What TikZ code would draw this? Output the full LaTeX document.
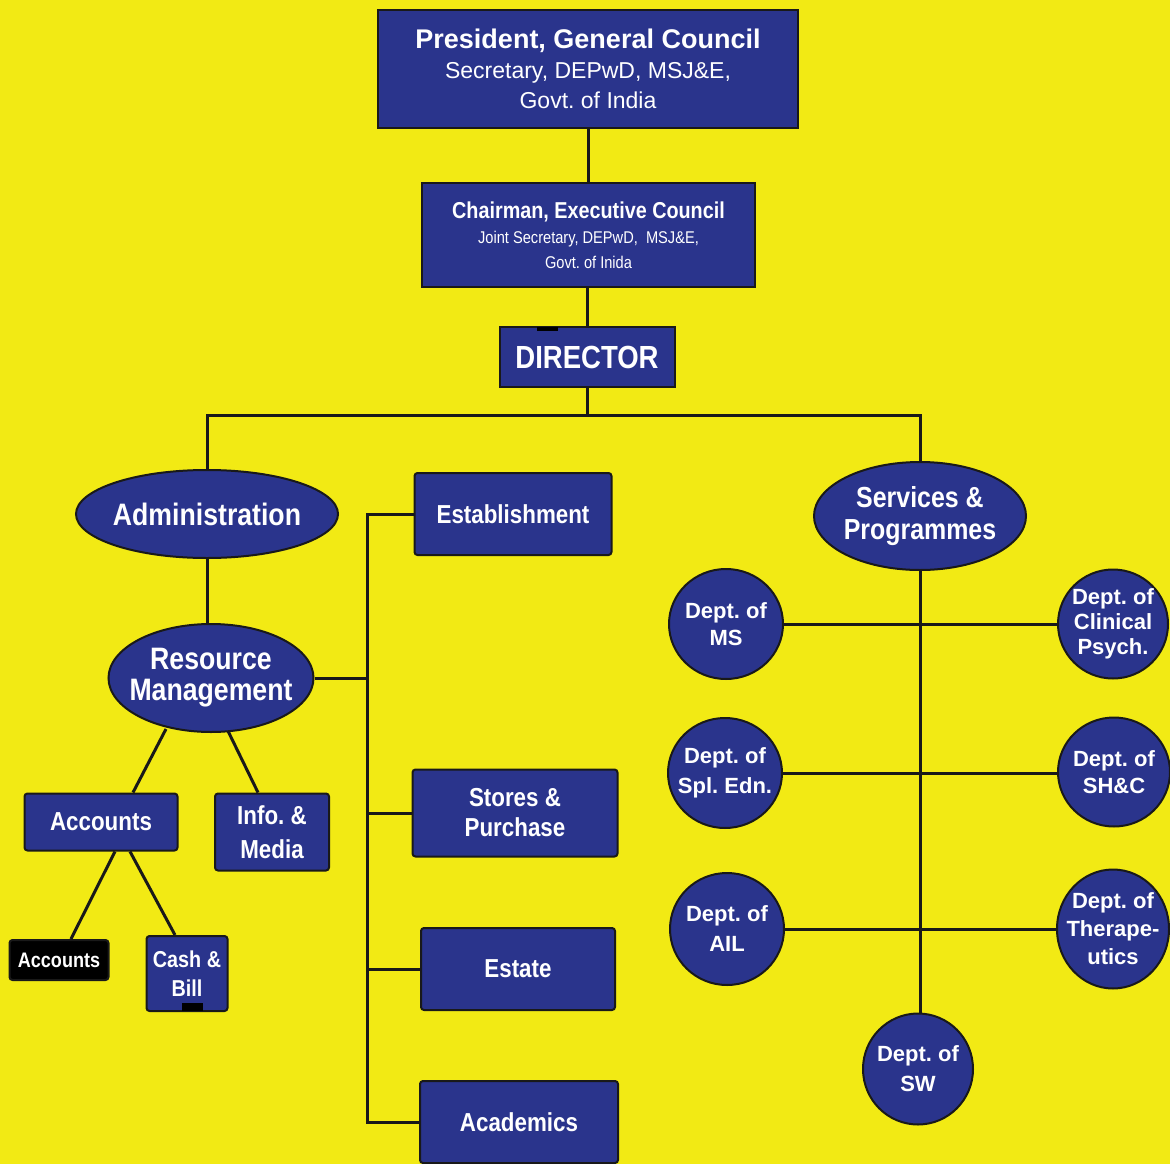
\documentclass[tikz,border=0pt]{standalone}
\usepackage{fontspec}
\setmainfont{Liberation Sans}
\newfontfamily\cond[FakeStretch=0.86]{Liberation Sans}
\usetikzlibrary{shapes.geometric,calc}
\definecolor{bgy}{RGB}{242,234,20}
\definecolor{navy}{RGB}{42,52,140}
\definecolor{ln}{RGB}{25,25,25}
\newcommand\myfs[2]{\fontsize{#1}{#2}\selectfont}
\frenchspacing
\begin{document}
\begin{tikzpicture}[x=1pt,y=-1pt,
  box/.style={draw=ln, line width=2pt, fill=navy, text=white, inner sep=0pt, align=center, rounded corners=3pt},
  ell/.style={ellipse, draw=ln, line width=2pt, fill=navy, text=white, inner sep=-60pt, align=center},
  conn/.style={draw=ln, line width=3pt},
  cb/.style={font=\cond\bfseries\myfs{26}{31}},
  nb/.style={font=\bfseries\myfs{22}{27}}]
\fill[bgy] (0,0) rectangle (1170,1164);
\useasboundingbox (0,0) rectangle (1170,1164);

% top chain
\node[box, rounded corners=0pt, minimum width=420, minimum height=118, font=\myfs{23}{30}] (pres) at (588,69)
  {{\bfseries\myfs{27}{31}President, General Council}\\Secretary, DEPwD, MSJ\&E,\\Govt. of India};
\node[box, rounded corners=0pt, minimum width=333, minimum height=104, font=\cond\myfs{17}{25}] (chair) at (588.5,235)
  {{\bfseries\myfs{23}{27}Chairman, Executive Council}\\Joint Secretary, DEPwD,~ MSJ\&E,\\Govt. of Inida};
\node[box, rounded corners=0pt, minimum width=175, minimum height=60, font=\cond\bfseries\myfs{32}{36}] (dir) at (587,357) {DIRECTOR};

% left side
\node[ell, minimum width=262, minimum height=88, font=\cond\bfseries\myfs{31}{36}] (adm) at (207,514) {Administration};
\node[ell, minimum width=205, minimum height=108, font=\cond\bfseries\myfs{31}{31}] (rm) at (211,678) {Resource\\Management};
\node[box, cb, minimum width=153, minimum height=57] (acc) at (101,822) {Accounts};
\node[box, cb, minimum width=114, minimum height=77, font=\cond\bfseries\myfs{26}{34}] (info) at (272,832) {Info. \&\\Media};
\node[box, fill=black, minimum width=99, minimum height=40, font=\cond\bfseries\myfs{21}{24}] (acc2) at (59,960) {Accounts};
\node[box, minimum width=81, minimum height=75, font=\cond\bfseries\myfs{23}{29}] (cash) at (187,973.5) {Cash \&\\Bill};
\fill[black] (182,1003) rectangle (203,1011);
\fill[black] (537,327) rectangle (558,331);

% middle column
\node[box, cb, minimum width=197, minimum height=82] (est) at (513,514) {Establishment};
\node[box, cb, minimum width=205, minimum height=87, font=\cond\bfseries\myfs{26}{30}] (sto) at (515,813) {Stores \&\\Purchase};
\node[box, cb, minimum width=194, minimum height=82] (esta) at (518,969) {Estate};
\node[box, cb, minimum width=198, minimum height=82] (acad) at (519,1122) {Academics};

% right side
\node[ell, minimum width=212, minimum height=108, font=\cond\bfseries\myfs{29}{32}] (sp) at (920,516) {Services \&\\Programmes};
\node[ell, nb, minimum width=114, minimum height=110] (ms) at (726,624) {Dept. of\\MS};
\node[ell, nb, minimum width=110, minimum height=109, font=\bfseries\myfs{22}{25}] (cp) at (1113,624) {Dept. of\\Clinical\\Psych.};
\node[ell, nb, minimum width=114, minimum height=110, font=\bfseries\myfs{22}{30}] (se) at (725,773) {Dept. of\\Spl. Edn.};
\node[ell, nb, minimum width=112, minimum height=109] (shc) at (1114,772) {Dept. of\\SH\&C};
\node[ell, nb, minimum width=114, minimum height=112, font=\bfseries\myfs{22}{30}] (ail) at (727,929) {Dept. of\\AIL};
\node[ell, nb, minimum width=112, minimum height=119, font=\bfseries\myfs{22}{28}] (ther) at (1113,929) {Dept. of\\Therape-\\utics};
\node[ell, nb, minimum width=110, minimum height=111, font=\bfseries\myfs{22}{30}] (sw) at (918,1069) {Dept. of\\SW};

% connectors
\coordinate (hb) at (587,415);
\coordinate (tb) at (367,1122);
\draw[conn] (pres.south) -- (pres.south |- chair.north);
\draw[conn] (chair.south -| dir.north) -- (dir.north);
\draw[conn] (dir.south) -- (hb);
\draw[conn] (adm.north) |- (hb) -| (sp.north);
\draw[conn] (adm.south) -- (rm.north -| adm.south);
\draw[conn] (est.west) -- (est.west -| tb) -- (acad.west -| tb) -- (acad.west);
\draw[conn] (rm.east) -- (rm.east -| tb);
\draw[conn] (sto.west) -- (sto.west -| tb);
\draw[conn] (esta.west) -- (esta.west -| tb);
\draw[conn] ($(rm.south)+(-45,-4)$) -- ($(acc.north)+(32,0)$);
\draw[conn] ($(rm.south)+(17,-2)$) -- ($(info.north)+(-14,0)$);
\draw[conn] ($(acc.south)+(14,0)$) -- ($(acc2.north)+(12,0)$);
\draw[conn] ($(acc.south)+(29,0)$) -- ($(cash.north)+(-12,0)$);
\draw[conn] (sp.south) -- (sp.south |- sw.north);
\draw[conn] (ms.east) -- (ms.east -| cp.west);
\draw[conn] (se.east) -- (se.east -| shc.west);
\draw[conn] (ail.east) -- (ail.east -| ther.west);
\end{tikzpicture}
\end{document}
